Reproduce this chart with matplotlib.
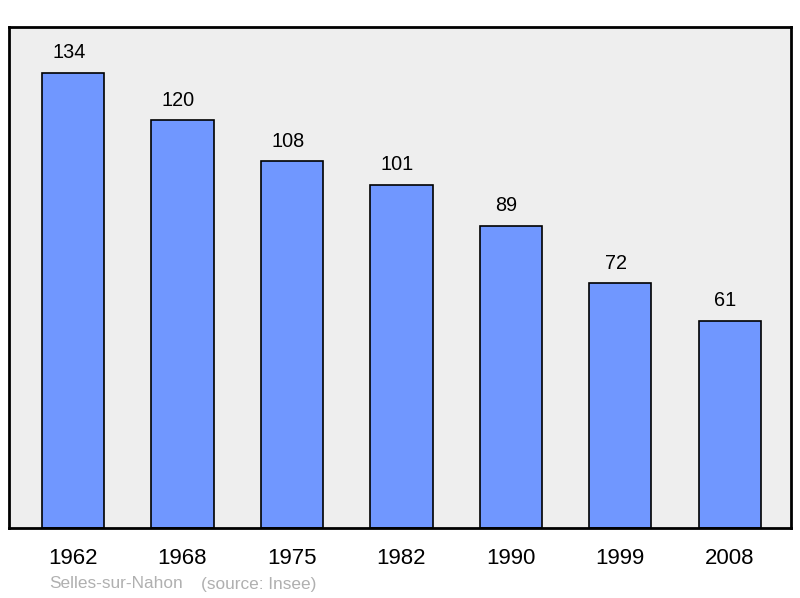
import matplotlib.pyplot as plt
import numpy as np

plt.rcParams['font.family'] = ['Liberation Sans', 'DejaVu Sans']

years = ['1962', '1968', '1975', '1982', '1990', '1999', '2008']
population = [134, 120, 108, 101, 89, 72, 61]
commune = 'Selles-sur-Nahon'
source = '(source: Insee)'

fig = plt.figure(figsize=(8, 5.98), dpi=100)
ax = fig.add_axes([9 / 800, 70 / 598, 782 / 800, 501 / 598])
ax.set_facecolor('#eeeeee')

x = np.arange(len(years))
bars = ax.bar(x, population, width=0.57, color='#7097ff', edgecolor='black', linewidth=1.2, zorder=2)

for xi, v in zip(x, population):
    ax.annotate(str(v), (xi, v), xytext=(-3, 14.5), textcoords='offset points',
                ha='center', va='center', fontsize=14.3)

ax.set_xlim(-0.585, 6.56)
ax.set_ylim(0, 147.5)
ax.set_xticks(x)
ax.set_xticklabels(years, fontsize=16)
ax.tick_params(axis='x', length=0, pad=14.5)
ax.set_yticks([])
for s in ax.spines.values():
    s.set_linewidth(2)

fig.text(49 / 800, 1 - 584 / 598, commune, color='#b0b0b0', fontsize=12.4, va='center')
fig.text(201 / 800, 1 - 584 / 598, source, color='#b0b0b0', fontsize=12.4, va='center')

fig.savefig('out.png', dpi=100)
